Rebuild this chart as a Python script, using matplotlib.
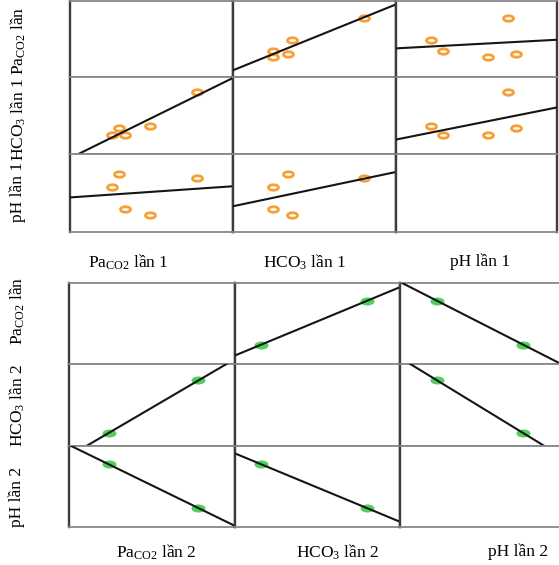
import numpy as np
import matplotlib.pyplot as plt
from matplotlib.path import Path
from matplotlib.transforms import Affine2D

plt.rcParams['font.family'] = ['Liberation Serif', 'DejaVu Serif']
plt.rcParams['mathtext.fontset'] = 'custom'
plt.rcParams['mathtext.rm'] = 'Liberation Serif'
plt.rcParams['mathtext.it'] = 'Liberation Serif:italic'

# lần 1 (5 patients), lần 2 (2 points)
pa_1 = [43, 45, 47, 54.5, 69]
hco3_1 = [21.1, 23.4, 21.2, 24.0, 35.1]
ph_1 = [7.372, 7.424, 7.288, 7.265, 7.409]

pa_2 = [42, 69]
hco3_2 = [19, 35]
ph_2 = [7.432, 7.27]

limits = [(30, 80), (15, 40), (7.20, 7.50)]

labels_1 = ["Pa$_{\\mathrm{CO2}}$ lần 1", "HCO$_{\\mathrm{3}}$ lần 1", "pH lần 1"]
labels_2 = ["Pa$_{\\mathrm{CO2}}$ lần 2", "HCO$_{\\mathrm{3}}$ lần 2", "pH lần 2"]
row_labels_1 = ["Pa$_{\\mathrm{CO2}}$ lần", "HCO$_{\\mathrm{3}}$ lần 1", "pH lần 1"]
row_labels_2 = ["Pa$_{\\mathrm{CO2}}$ lần", "HCO$_{\\mathrm{3}}$ lần 2", "pH lần 2"]

W, H = 559, 565
fig = plt.figure(figsize=(W / 100, H / 100), dpi=100)

ellipse = Path.unit_circle().transformed(Affine2D().scale(1, 0.55))


def add_box(x0, x1, y0, y1):
    return fig.add_axes([x0 / W, 1 - y1 / H, (x1 - x0) / W, (y1 - y0) / H])


def matrix(data, xs, ys, marker_kw, right_spine=True):
    for i in range(3):
        for j in range(3):
            ax = add_box(xs[j], xs[j + 1], ys[i], ys[i + 1])
            ax.set_xlim(limits[j])
            ax.set_ylim(limits[i])
            ax.set_xticks([])
            ax.set_yticks([])
            for s in ['top', 'bottom']:
                ax.spines[s].set_color('#888888')
                ax.spines[s].set_linewidth(1.3)
            for s in ['left', 'right']:
                ax.spines[s].set_color('#3c3c3c')
                ax.spines[s].set_linewidth(1.7)
            if j == 2 and not right_spine:
                ax.spines['right'].set_visible(False)
            if i == j:
                continue
            x = np.array(data[j])
            y = np.array(data[i])
            ax.plot(x, y, linestyle='none', marker=ellipse, zorder=2, **marker_kw)
            # least squares line across the whole cell
            k, b = np.polyfit(x, y, 1)
            xl = np.array(limits[j])
            ax.plot(xl, k * xl + b, color='#151515', lw=1.5, zorder=3)


matrix([pa_1, hco3_1, ph_1], [70, 233, 396, 557], [1, 77, 154, 232],
       dict(markersize=7.2, markerfacecolor='white', markeredgecolor='#f7a035',
            markeredgewidth=2.0))
matrix([pa_2, hco3_2, ph_2], [69, 235, 400, 559], [283, 364, 446, 527],
       dict(markersize=9.5, markerfacecolor='#3fcb4c', markeredgecolor='#3fcb4c',
            markeredgewidth=0.5, alpha=0.9), right_spine=False)

fs = 12.5
for lab, cx in zip(labels_1, [128, 304, 480]):
    fig.text(cx / W, 1 - 262 / H, lab, ha='center', va='center', fontsize=fs)
for lab, cx in zip(labels_2, [156, 337, 518]):
    fig.text(cx / W, 1 - 552 / H, lab, ha='center', va='center', fontsize=fs)
for lab, cy in zip(row_labels_1, [41, 120, 192]):
    fig.text(18 / W, 1 - cy / H, lab, ha='center', va='center', fontsize=fs, rotation=90)
for lab, cy in zip(row_labels_2, [311, 406, 497]):
    fig.text(17 / W, 1 - cy / H, lab, ha='center', va='center', fontsize=fs, rotation=90)

fig.savefig('out.png', dpi=100)
